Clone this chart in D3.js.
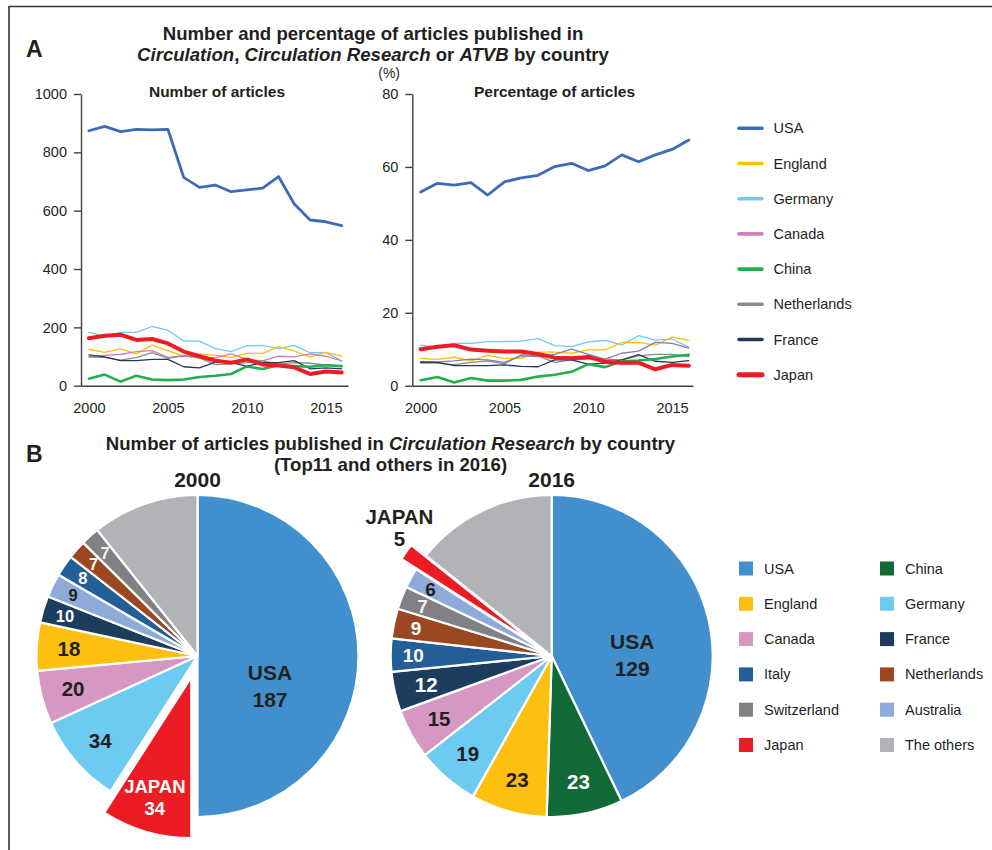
<!DOCTYPE html>
<html><head><meta charset="utf-8">
<script src="https://cdn.jsdelivr.net/npm/d3@7"></script>
<style>
body{margin:0;background:#fff;}
svg{display:block;font-family:"Liberation Sans",Arial,Helvetica,sans-serif;}
</style></head><body>
<svg id="chart" width="992" height="850"></svg>
<script>
// ---------- DATA ----------
const years = [2000,2001,2002,2003,2004,2005,2006,2007,2008,2009,2010,2011,2012,2013,2014,2015,2016];
const xTickYears = [2000,2005,2010,2015];
const countTicks = [0,200,400,600,800,1000];
const pctTicks = [0,20,40,60,80];
const lineCountries = ["USA","England","Germany","Canada","China","Netherlands","France","Japan"];

const countUSA         = [874,889,871,879,877,879,714,680,688,665,671,677,717,623,568,562,549];
const countEngland     = [125,114,126,109,139,120,101,109,104,97,111,111,134,119,98,114,101];
const countGermany     = [183,170,183,183,203,190,153,153,127,117,137,138,127,138,113,114,85];
const countCanada      = [99,104,107,117,120,97,101,97,96,109,90,85,101,99,109,101,85];
const countChina       = [24,38,14,34,21,19,21,30,34,40,66,57,70,67,65,70,67];
const countNetherlands = [98,97,88,96,113,94,104,95,72,75,79,85,74,79,77,71,66];
const countFrance      = [106,99,86,86,90,90,65,61,81,79,67,79,79,86,58,61,58];
const countJapan       = [163,171,175,157,160,145,117,101,86,79,90,73,69,63,40,49,45];

const pctUSA         = [53.1,55.5,55.0,55.7,52.3,55.9,57.0,57.7,60.1,61.0,59.0,60.3,63.3,61.4,63.3,64.8,67.4];
const pctEngland     = [7.5,7.2,7.8,6.8,8.3,7.5,7.5,9.2,9.2,8.9,9.8,9.8,11.9,11.9,11.1,13.3,12.4];
const pctGermany     = [11.1,10.5,11.6,11.6,12.1,12.1,12.2,12.9,11.0,10.7,12.0,12.4,11.2,13.7,12.5,12.8,10.5];
const pctCanada      = [6.5,6.5,6.8,7.3,7.1,6.4,8.2,8.0,8.6,10.0,8.6,7.3,8.9,9.5,11.9,11.6,10.3];
const pctChina       = [1.5,2.4,0.9,2.1,1.4,1.4,1.6,2.5,3.0,3.8,5.9,5.1,6.7,6.9,7.3,8.0,8.5];
const pctNetherlands = [6.2,6.2,5.8,6.4,6.8,6.0,8.5,8.2,6.4,7.1,7.3,7.3,7.1,8.2,8.6,8.6,8.0];
const pctFrance      = [6.5,6.4,5.5,5.5,5.5,5.7,5.3,5.2,7.1,7.1,5.9,6.2,7.1,8.5,6.7,6.4,6.9];
const pctJapan       = [10.0,10.7,11.1,9.9,9.6,9.4,9.4,8.7,7.7,7.5,7.9,6.6,6.3,6.3,4.5,5.7,5.5];

const pie2000Names  = ["USA","Japan","Germany","Canada","England","France","Australia","Italy","Netherlands","Switzerland","The others"];
const pie2000Values = [187,34,34,20,18,10,9,8,7,7,40];
const pie2016Names  = ["USA","China","England","Germany","Canada","France","Italy","Netherlands","Switzerland","Australia","Japan","The others"];
const pie2016Values = [129,23,23,19,15,12,10,9,7,6,5,43];

const pieLegendCol1 = ["USA","England","Canada","Italy","Switzerland","Japan"];
const pieLegendCol2 = ["China","Germany","France","Netherlands","Australia","The others"];

// ---------- STYLE ----------
const dark = "#231f20";
const lineColor = {USA:"#3e6bb8",England:"#ffc000",Germany:"#72c8f1",Canada:"#cf7fba",China:"#20b04b",Netherlands:"#8a8a8a",France:"#1f3a5a",Japan:"#ed1c24"};
const lineColorPct = Object.assign({}, lineColor, {Canada:"#8a78b8"});
const lineWidth = {USA:2.8,England:1.3,Germany:1.3,Canada:1.3,China:2.6,Netherlands:1.3,France:1.3,Japan:4};
const drawOrder = ["Germany","England","Canada","Netherlands","France","China","Japan","USA"];
const pieColor = {USA:"#418fcd",England:"#fdc010",Canada:"#d698c3",Italy:"#235f96",Switzerland:"#808184",Japan:"#ed1c24",China:"#116a37",Germany:"#6dcaf1",France:"#1d3d5f",Netherlands:"#9b4722",Australia:"#8eaad8","The others":"#b1b3b6"};
const pieText = {USA:dark,England:dark,Canada:dark,Germany:dark,Australia:dark,Italy:"#fff",Switzerland:"#f2f2f2",Japan:"#fff",China:"#fff",France:"#fff",Netherlands:"#fff"};

const countSeries = {USA:countUSA,England:countEngland,Germany:countGermany,Canada:countCanada,China:countChina,Netherlands:countNetherlands,France:countFrance,Japan:countJapan};
const pctSeries = {USA:pctUSA,England:pctEngland,Germany:pctGermany,Canada:pctCanada,China:pctChina,Netherlands:pctNetherlands,France:pctFrance,Japan:pctJapan};

const svg = d3.select("#chart");

// frame
svg.append("path").attr("d","M9,850 V6.5 H992").attr("fill","none").attr("stroke","#333").attr("stroke-width",1.6);

// panel labels
svg.append("text").attr("x",26).attr("y",57).attr("font-size",23).attr("font-weight","bold").attr("fill",dark).text("A");
svg.append("text").attr("x",26).attr("y",462).attr("font-size",23).attr("font-weight","bold").attr("fill",dark).text("B");

// A title
const tA = svg.append("text").attr("text-anchor","middle").attr("font-size",18.6).attr("font-weight","bold").attr("fill",dark);
tA.append("tspan").attr("x",373).attr("y",40).text("Number and percentage of articles published in");
const tA2 = tA.append("tspan").attr("x",373).attr("y",60.5);
tA2.append("tspan").attr("font-style","italic").text("Circulation");
tA2.append("tspan").text(", ");
tA2.append("tspan").attr("font-style","italic").text("Circulation Research");
tA2.append("tspan").text(" or ");
tA2.append("tspan").attr("font-style","italic").text("ATVB");
tA2.append("tspan").text(" by country");

// ---------- LINE CHARTS ----------
function lineChart(cfg){
  const g = svg.append("g");
  const x = d3.scaleLinear().domain(cfg.xDomain).range(cfg.xRange);
  const y = d3.scaleLinear().domain(cfg.yDomain).range([385.7,94]);
  const ya = g.append("g").attr("transform",`translate(${cfg.xRange[0]},0)`)
    .call(d3.axisLeft(y).tickValues(cfg.ticks).tickFormat(d3.format("d")).tickSize(7).tickPadding(7).tickSizeOuter(0));
  const xa = g.append("g").attr("transform",`translate(0,385.7)`)
    .call(d3.axisBottom(x).tickValues(xTickYears).tickFormat(d3.format("d")).tickSize(0).tickPadding(17).tickSizeOuter(0));
  [ya,xa].forEach(a=>{
    a.selectAll("path,line").attr("stroke","#404040").attr("stroke-width",1.4);
    a.selectAll("text").attr("font-size",14.5).attr("fill",dark).attr("font-family","Liberation Sans, Arial, sans-serif");
  });
  const line = d3.line().x((d,i)=>x(years[i])).y(d=>y(d));
  drawOrder.forEach(c=>{
    g.append("path").datum(cfg.series[c]).attr("d",line).attr("fill","none")
      .attr("stroke",cfg.colors[c]).attr("stroke-width",lineWidth[c])
      .attr("stroke-linejoin","round").attr("stroke-linecap","round");
  });
  g.append("text").attr("x",cfg.titleX).attr("y",96.5).attr("text-anchor","middle")
    .attr("font-size",15.5).attr("font-weight","bold").attr("fill",dark).text(cfg.title);
}
lineChart({xDomain:[1999.5,2016.4],xRange:[81,348],yDomain:[0,1000],ticks:countTicks,series:countSeries,colors:lineColor,title:"Number of articles",titleX:217});
lineChart({xDomain:[1999.5,2016.25],xRange:[412.3,693],yDomain:[0,80],ticks:pctTicks,series:pctSeries,colors:lineColorPct,title:"Percentage of articles",titleX:554.5});
svg.append("text").attr("x",400).attr("y",78).attr("text-anchor","end").attr("font-size",14).attr("fill",dark).text("(%)");

// legend A
const legA = svg.append("g");
lineCountries.forEach((c,i)=>{
  const yy = 128.3 + i*35.2;
  legA.append("line").attr("x1",739).attr("x2",762).attr("y1",yy).attr("y2",yy)
    .attr("stroke",lineColor[c]).attr("stroke-width",c==="Japan"?5:3.6).attr("stroke-linecap","round");
  legA.append("text").attr("x",773.5).attr("y",yy+5).attr("font-size",14.5).attr("fill",dark).text(c);
});

// ---------- B ----------
const tB = svg.append("text").attr("text-anchor","middle").attr("font-size",18.6).attr("font-weight","bold").attr("fill",dark);
const tB1 = tB.append("tspan").attr("x",390.5).attr("y",450);
tB1.append("tspan").text("Number of articles published in ");
tB1.append("tspan").attr("font-style","italic").text("Circulation Research");
tB1.append("tspan").text(" by country");
tB.append("tspan").attr("x",390.5).attr("y",471).text("(Top11 and others in 2016)");

function pieChart(cfg){
  const g = svg.append("g").attr("transform",`translate(${cfg.cx},${cfg.cy})`);
  const R = cfg.R;
  const data = cfg.names.map((n,i)=>({name:n,value:cfg.values[i]}));
  const arcs = d3.pie().sort(null).value(d=>d.value)(data);
  const arc = d3.arc().innerRadius(0).outerRadius(R);
  const off = a => {
    const m = (a.startAngle+a.endAngle)/2;
    const d = a.data.name==="Japan" ? cfg.explode : 0;
    return [Math.sin(m)*d, -Math.cos(m)*d];
  };
  arcs.forEach(a=>{
    const [ox,oy] = off(a);
    g.append("path").attr("d",arc(a)).attr("transform",`translate(${ox},${oy})`)
      .attr("fill",pieColor[a.data.name]).attr("stroke","#fff").attr("stroke-width",2.2).attr("stroke-linejoin","round");
  });
  arcs.forEach(a=>{
    const n = a.data.name, v = a.data.value;
    if(n==="The others") return;
    const m = (a.startAngle+a.endAngle)/2;
    const [ox,oy] = off(a);
    const at = r => [ox+Math.sin(m)*r, oy-Math.cos(m)*r];
    if(n==="USA"){
      const [px,py] = at(R*0.5);
      const t = g.append("text").attr("text-anchor","middle").attr("font-weight","bold").attr("font-size",21).attr("fill",dark);
      t.append("tspan").attr("x",px+cfg.usaDx).attr("y",py+cfg.usaDy-13.5).attr("dy","0.35em").text("USA");
      t.append("tspan").attr("x",px+cfg.usaDx).attr("y",py+cfg.usaDy+13.5).attr("dy","0.35em").text(v);
    } else if(n==="Japan"){
      const [px,py] = at(R*cfg.japanR);
      const t = g.append("text").attr("text-anchor","middle").attr("font-weight","bold").attr("font-size",cfg.japanSize)
        .attr("fill",cfg.japanOutside?dark:"#fff");
      t.append("tspan").attr("x",px+cfg.japanDx).attr("y",py+cfg.japanDy-11).attr("dy","0.35em").text("JAPAN");
      t.append("tspan").attr("x",px+cfg.japanDx).attr("y",py+cfg.japanDy+11.5).attr("dy","0.35em").text(v);
    } else {
      const small = v < 12;
      const [px,py] = at(R*(small?0.86:0.8));
      g.append("text").attr("x",px).attr("y",py).attr("dy","0.35em").attr("text-anchor","middle")
        .attr("font-weight","bold").attr("font-size",small?cfg.smallSize:20.5).attr("fill",pieText[n]).text(v);
    }
  });
  svg.append("text").attr("x",cfg.cx).attr("y",486.7).attr("text-anchor","middle")
    .attr("font-size",21).attr("font-weight","bold").attr("fill",dark).text(cfg.title);
}
pieChart({cx:197.5,cy:656,R:161,names:pie2000Names,values:pie2000Values,explode:22,title:"2000",
  usaDx:-8,usaDy:30,japanR:0.76,japanDx:-2,japanDy:3,japanSize:18.5,japanOutside:false,smallSize:16.5});
pieChart({cx:551.7,cy:656,R:161,names:pie2016Names,values:pie2016Values,explode:18,title:"2016",
  usaDx:2,usaDy:17,japanR:1.12,japanDx:9,japanDy:-13,japanSize:20.5,japanOutside:true,smallSize:19});

// legend B
const legB = svg.append("g");
[[pieLegendCol1,739,764],[pieLegendCol2,880,905]].forEach(([names,sx,tx])=>{
  names.forEach((n,i)=>{
    const yy = 568.5 + i*35.3;
    legB.append("rect").attr("x",sx).attr("y",yy-7).attr("width",14).attr("height",14).attr("fill",pieColor[n]);
    legB.append("text").attr("x",tx).attr("y",yy+5).attr("font-size",14.5).attr("fill",dark).text(n);
  });
});
</script>
</body></html>
